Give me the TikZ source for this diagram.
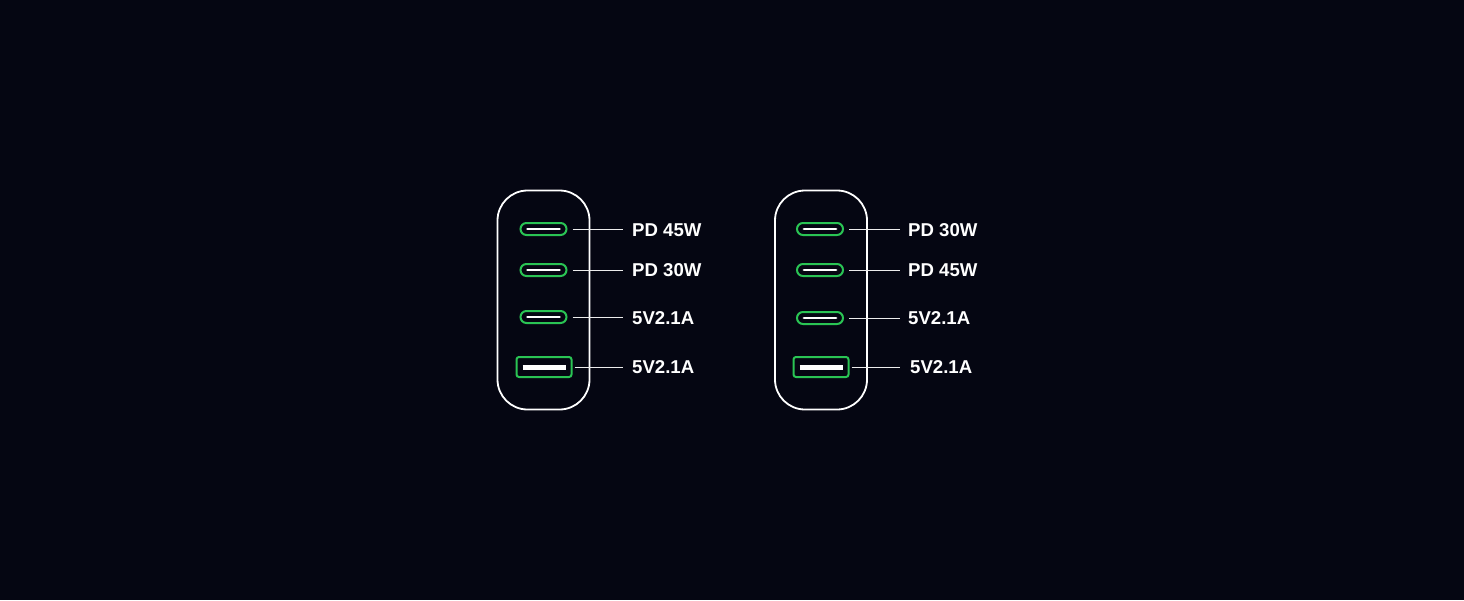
\documentclass[tikz,border=0pt]{standalone}
\usepackage{fontspec}
\setmainfont{Liberation Sans}
\definecolor{bgnavy}{RGB}{5,6,18}
\definecolor{portgreen}{RGB}{42,196,84}
\tikzstyle{body} = [rectangle, rounded corners=30pt, minimum width=92pt, minimum height=219pt, draw=white, line width=1.8pt]
\tikzstyle{cport} = [rectangle, rounded corners=6pt, minimum width=46pt, minimum height=12pt, inner sep=0pt, draw=portgreen, line width=2pt]
\tikzstyle{aport} = [rectangle, rounded corners=2.5pt, minimum width=55pt, minimum height=20pt, inner sep=0pt, draw=portgreen, line width=2pt]
\tikzstyle{rating} = [anchor=west, inner sep=0pt, text=white, font=\bfseries\fontsize{18.6}{20}\selectfont]
\tikzstyle{lead} = [draw=white!85!gray, line width=0.8pt]
\tikzstyle{slot} = [draw=white, line width=2.8pt, line cap=round]

\begin{document}
\begin{tikzpicture}[x=1pt, y=-1pt]
	\fill[bgnavy] (0,0) rectangle (1464,600);
	\useasboundingbox (0,0) rectangle (1464,600);
	% left charger
	\node (bodyA) [body] at (543.5,300) {};
	\node (a1) [cport] at (543.5,229) {};
	\node (a2) [cport] at (543.5,270) {};
	\node (a3) [cport] at (543.5,317) {};
	\node (a4) [aport] at (544,367) {};
	\node (la1) [rating] at (632,230) {PD 45W};
	\node (la2) [rating] at (632,270) {PD 30W};
	\node (la3) [rating] at (632,318) {5V2.1A};
	\node (la4) [rating] at (632,367) {5V2.1A};
	\draw [slot] ([xshift=8pt]a1.west) -- ([xshift=-8pt]a1.east);
	\draw [slot] ([xshift=8pt]a2.west) -- ([xshift=-8pt]a2.east);
	\draw [slot] ([xshift=8pt]a3.west) -- ([xshift=-8pt]a3.east);
	\draw [slot, line width=5pt, line cap=butt] ([xshift=7pt]a4.west) -- ([xshift=-7pt]a4.east);
	\draw [lead, shorten <=5pt, shorten >=9pt] (a1.east) -- (a1.east -| la1.west);
	\draw [lead, shorten <=5pt, shorten >=9pt] (a2.east) -- (a2.east -| la2.west);
	\draw [lead, shorten <=5pt, shorten >=9pt] (a3.east) -- (a3.east -| la3.west);
	\draw [lead, shorten <=2pt, shorten >=9pt] (a4.east) -- (a4.east -| la4.west);
	% right charger
	\node (bodyB) [body] at (821,300) {};
	\node (b1) [cport] at (820,229) {};
	\node (b2) [cport] at (820,270) {};
	\node (b3) [cport] at (820,318) {};
	\node (b4) [aport] at (821,367) {};
	\node (lb1) [rating] at (908,230) {PD 30W};
	\node (lb2) [rating] at (908,270) {PD 45W};
	\node (lb3) [rating] at (908,318) {5V2.1A};
	\node (lb4) [rating] at (910,367) {5V2.1A};
	\draw [slot] ([xshift=8pt]b1.west) -- ([xshift=-8pt]b1.east);
	\draw [slot] ([xshift=8pt]b2.west) -- ([xshift=-8pt]b2.east);
	\draw [slot] ([xshift=8pt]b3.west) -- ([xshift=-8pt]b3.east);
	\draw [slot, line width=5pt, line cap=butt] ([xshift=7pt]b4.west) -- ([xshift=-7pt]b4.east);
	\draw [lead, shorten <=5pt, shorten >=8pt] (b1.east) -- (b1.east -| lb1.west);
	\draw [lead, shorten <=5pt, shorten >=8pt] (b2.east) -- (b2.east -| lb2.west);
	\draw [lead, shorten <=5pt, shorten >=8pt] (b3.east) -- (b3.east -| lb3.west);
	\draw [lead, shorten <=2pt, shorten >=10pt] (b4.east) -- (b4.east -| lb4.west);
\end{tikzpicture}
\end{document}
